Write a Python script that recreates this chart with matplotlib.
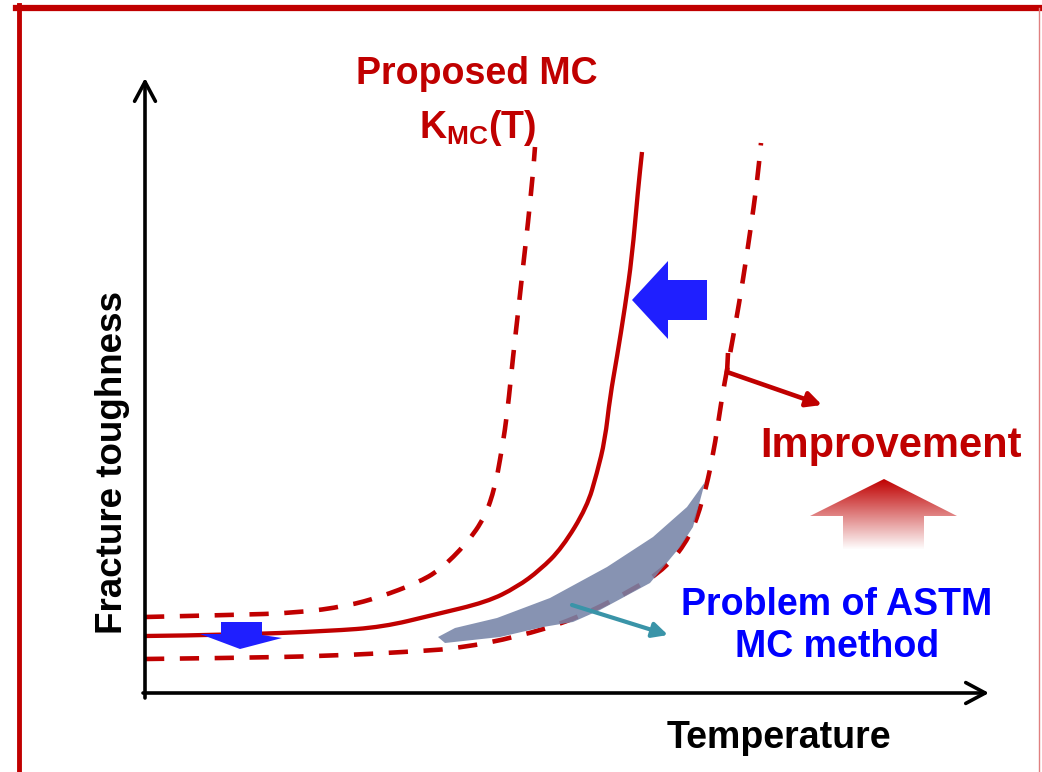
import matplotlib; matplotlib.use("agg")
import matplotlib.pyplot as plt
from matplotlib.patches import Polygon, PathPatch
from matplotlib.path import Path
from matplotlib.lines import Line2D
import numpy as np

plt.rcParams['font.family'] = ['Liberation Sans', 'DejaVu Sans']
plt.rcParams['mathtext.fontset'] = 'custom'
plt.rcParams['mathtext.rm'] = 'Liberation Sans:bold'
plt.rcParams['mathtext.default'] = 'rm'

RED = '#C00000'
BLUE = '#1F1FFF'

# curves (temperature, toughness) in arbitrary units
lower_T = [0, 85, 185, 278, 315, 372, 428, 488, 522, 545, 558, 568, 577, 582, 590, 598, 605, 612, 616]
lower_K = [34, 35, 37, 42, 45, 56, 73, 103, 126, 156, 193, 236, 296, 323, 366, 413, 460, 510, 550]

median_T = [0, 85, 185, 238, 288, 342, 372, 395, 417, 442, 452, 460, 465, 472, 480, 487, 493, 497]
median_K = [57, 58, 62, 66, 78, 91, 106, 123, 145, 186, 220, 253, 296, 336, 386, 436, 503, 541]

upper_T = [0, 85, 152, 202, 235, 272, 295, 322, 340, 350, 355, 360, 364, 368, 373, 378, 383, 388, 390]
upper_K = [76, 78, 80, 87, 96, 110, 123, 150, 176, 206, 233, 263, 296, 336, 380, 426, 470, 520, 546]

# ASTM data band
band_T = [293, 310, 352, 405, 462, 508, 542, 560, 548, 535, 505, 455, 428, 398, 355, 300]
band_K = [56, 65, 75, 95, 126, 156, 186, 211, 166, 146, 110, 83, 71, 66, 56, 50]

# shift arrows
big_arrow_T = [487, 523, 523, 562, 562, 523, 523]
big_arrow_K = [393, 432, 413, 413, 373, 373, 354]
small_arrow_T = [76, 117, 117, 137, 95, 55, 76]
small_arrow_K = [71, 71, 58, 55, 44, 59, 59]
up_arrow_T = [739, 812, 779, 779, 698, 698, 665]
up_arrow_K = [214, 177, 177, 143, 143, 177, 177]


def smooth_path(xs, ys):
    # quadratic pieces through the midpoints, the read points act as control points
    pts = np.column_stack([xs, ys]).astype(float)
    verts = [pts[0]]
    codes = [Path.MOVETO]
    for i in range(1, len(pts) - 1):
        verts += [pts[i], (pts[i] + pts[i + 1]) / 2]
        codes += [Path.CURVE3, Path.CURVE3]
    verts.append(pts[-1])
    codes.append(Path.LINETO)
    return Path(verts, codes)


fig = plt.figure(figsize=(10.42, 7.72), dpi=100)
ax = fig.add_axes([0, 0, 1, 1])
ax.set_xlim(-145, 1042 - 145)
ax.set_ylim(693 - 772, 693)
ax.axis('off')

# frame
fig.add_artist(Line2D([16 / 1042, 1], [1 - 8 / 772, 1 - 8 / 772], color=RED, lw=4.5))
fig.add_artist(Line2D([19 / 1042, 19 / 1042], [0, 1 - 5 / 772], color=RED, lw=3.5))
fig.add_artist(Line2D([1039 / 1042, 1039 / 1042], [0, 1 - 8 / 772], color='#E08080', lw=1))

# axes with open arrow heads
arr = dict(arrowstyle='->,head_length=1.4,head_width=0.75', color='black', lw=2.6,
           shrinkA=0, shrinkB=0)
ax.annotate('', xy=(0, 615), xytext=(0, -5), arrowprops=arr)
ax.annotate('', xy=(844, 0), xytext=(-2, 0), arrowprops=arr)

dash = (0, (4.2, 3.4))
ax.add_patch(PathPatch(smooth_path(lower_T, lower_K), fill=False, edgecolor=RED, lw=3.3,
                       ls=dash, capstyle='butt'))
ax.add_patch(PathPatch(smooth_path(upper_T, upper_K), fill=False, edgecolor=RED, lw=3.3,
                       ls=dash, capstyle='butt'))
ax.add_patch(PathPatch(smooth_path(median_T, median_K), fill=False, edgecolor=RED, lw=3.1))

ax.add_patch(Polygon(np.column_stack([band_T, band_K]), closed=True,
                     facecolor='#7684A8', edgecolor='none', alpha=0.88, zorder=3))

ax.add_patch(Polygon(np.column_stack([big_arrow_T, big_arrow_K]), closed=True,
                     facecolor=BLUE, edgecolor='none', zorder=4))
ax.add_patch(Polygon(np.column_stack([small_arrow_T, small_arrow_K]), closed=True,
                     facecolor=BLUE, edgecolor='none', zorder=4))

# teal arrow pointing at the band
ax.annotate('', xy=(523, 58), xytext=(427, 88),
            arrowprops=dict(arrowstyle='-|>,head_length=0.9,head_width=0.45',
                            color='#3A94A8', lw=3, shrinkA=0, shrinkB=0), zorder=5)

# red arrow leaving the upper bound curve
ax.plot([583, 582], [340, 320], color=RED, lw=3.3, solid_capstyle='butt')
ax.annotate('', xy=(677, 288), xytext=(582, 321),
            arrowprops=dict(arrowstyle='-|>,head_length=0.9,head_width=0.45',
                            color=RED, lw=3.3, shrinkA=0, shrinkB=0))

# gradient up arrow
up = Polygon(np.column_stack([up_arrow_T, up_arrow_K]), closed=True,
             facecolor='none', edgecolor='none')
ax.add_patch(up)
grad = np.zeros((100, 2, 4))
grad[..., 0] = 0.75
grad[..., 3] = np.linspace(1, 0, 100)[:, None]
im = ax.imshow(grad, extent=[min(up_arrow_T), max(up_arrow_T), min(up_arrow_K), max(up_arrow_K)],
               origin='upper', aspect='auto', interpolation='bilinear', zorder=2)
im.set_clip_path(up)

# texts
ax.text(332, 619, 'Proposed MC', color=RED, fontsize=27, fontweight='bold', ha='center', va='center')
ax.text(333, 565, r'K$_{\mathregular{MC}}$(T)', color=RED, fontsize=27, fontweight='bold',
        ha='center', va='center')
ax.text(746, 247, 'Improvement', color=RED, fontsize=30, fontweight='bold', ha='center', va='center')
ax.text(692, 67, 'Problem of ASTM\nMC method', color='#0000FF', fontsize=27, fontweight='bold',
        ha='center', va='center', linespacing=1.2)
ax.text(-33, 230, 'Fracture toughness', color='black', fontsize=26.5, fontweight='bold',
        ha='center', va='center', rotation=90)
ax.text(634, -45, 'Temperature', color='black', fontsize=27, fontweight='bold', ha='center', va='center')

plt.savefig('out.png', dpi=100)
